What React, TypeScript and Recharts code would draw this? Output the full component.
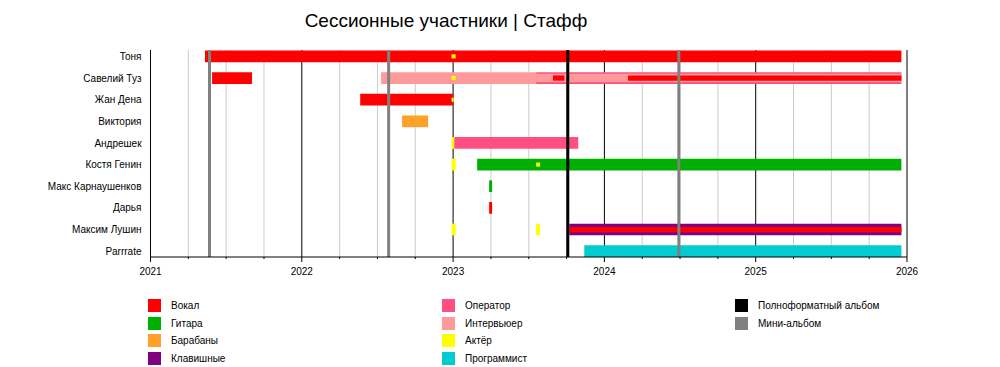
import React from 'react';
import { ComposedChart, XAxis, YAxis, ReferenceArea, ReferenceLine } from 'recharts';

type Seg = [string, number, number];

const members = [
  'Тоня', 'Савелий Туз', 'Жан Дена', 'Виктория', 'Андрешек',
  'Костя Генин', 'Макс Карнаушенков', 'Дарья', 'Максим Лушин', 'Parrrate',
];

// main bars, dates as decimal years
const vocal: Seg[] = [
  ['Тоня', 2021.36, 2025.963],
  ['Савелий Туз', 2021.407, 2021.671],
  ['Жан Дена', 2022.386, 2022.999],
  ['Дарья', 2023.238, 2023.258],
];
const guitar: Seg[] = [
  ['Костя Генин', 2023.159, 2025.963],
  ['Макс Карнаушенков', 2023.238, 2023.258],
];
const drums: Seg[] = [['Виктория', 2022.663, 2022.835]];
const keyboards: Seg[] = [['Максим Лушин', 2023.768, 2025.963]];
const operator: Seg[] = [
  ['Савелий Туз', 2023.549, 2025.963],
  ['Андрешек', 2023.007, 2023.827],
];
const interviewer: Seg[] = [['Савелий Туз', 2022.524, 2023.549]];
const actor: Seg[] = [
  ['Андрешек', 2022.99, 2023.007],
  ['Костя Генин', 2022.99, 2023.017],
  ['Максим Лушин', 2022.99, 2023.017],
  ['Максим Лушин', 2023.549, 2023.575],
];
const programmer: Seg[] = [['Parrrate', 2023.867, 2025.963]];

// secondary roles, drawn thinner inside a main bar
const interviewerAlso: Seg[] = [['Савелий Туз', 2023.549, 2025.963]];
const vocalAlso: Seg[] = [
  ['Савелий Туз', 2023.66, 2023.735],
  ['Савелий Туз', 2024.156, 2025.963],
  ['Максим Лушин', 2023.768, 2025.963],
];
const actorAlso: Seg[] = [
  ['Тоня', 2022.99, 2023.017],
  ['Савелий Туз', 2022.99, 2023.017],
  ['Жан Дена', 2022.99, 2023.004],
  ['Костя Генин', 2023.549, 2023.575],
];

const fullAlbums = [2023.758];
const miniAlbums = [2021.39, 2022.574, 2024.492];

const years = [2021, 2022, 2023, 2024, 2025, 2026];
const quarters = [
  2021.25, 2021.5, 2021.75, 2022.25, 2022.5, 2022.75, 2023.25, 2023.5, 2023.75,
  2024.25, 2024.5, 2024.75, 2025.25, 2025.5, 2025.75,
];

const C = {
  vocal: '#ff0000',
  guitar: '#00b000',
  drums: '#ffa02a',
  keyboards: '#800080',
  operator: '#ff4f80',
  interviewer: '#ff9a9a',
  actor: '#ffff00',
  programmer: '#00ccd2',
  full: '#000000',
  mini: '#808080',
};

const legendCols = [
  [['Вокал', C.vocal], ['Гитара', C.guitar], ['Барабаны', C.drums], ['Клавишные', C.keyboards]],
  [['Оператор', C.operator], ['Интервьюер', C.interviewer], ['Актёр', C.actor], ['Программист', C.programmer]],
  [['Полноформатный альбом', C.full], ['Мини-альбом', C.mini]],
];

const FONT = '"Liberation Sans", Arial, sans-serif';
const BAND = 0.54;
const TOP = 9.566;

const rowCenter = (name: string) => 9 - members.indexOf(name) + BAND / 2;

const areas = (segs: Seg[], color: string, scale: number, tag: string, z: number) =>
  segs.map(([name, s, e], i) => {
    const c = rowCenter(name);
    const h = (BAND / 2) * scale;
    return (
      <ReferenceArea
        key={tag + i}
        x1={s}
        x2={e}
        y1={c - h}
        y2={c + h}
        fill={color}
        fillOpacity={1}
        stroke="none"
        ifOverflow="extendDomain"
        zIndex={z}
      />
    );
  });

const TimeTick = (props: any) => {
  const { x, y, payload } = props;
  const major = Number.isInteger(payload.value);
  return (
    <g>
      <line x1={x} x2={x} y1={y} y2={y + (major ? 5 : 2)} stroke="#000" />
      {major && (
        <text x={x} y={y + 18} textAnchor="middle" fontSize={10} fill="#000" fontFamily={FONT}>
          {payload.value}
        </text>
      )}
    </g>
  );
};

export default function App() {
  return (
    <div style={{ position: 'absolute', left: 0, top: 0, width: 1000, height: 367, background: '#fff', fontFamily: FONT }}>
      <div style={{ position: 'absolute', left: 0, width: 892, top: 10, textAlign: 'center', fontSize: 19, color: '#000' }}>
        Сессионные участники | Стафф
      </div>
      <ComposedChart width={1000} height={367} margin={{ top: 50, right: 93, bottom: 0, left: 0 }} data={members.map((m) => ({ m }))}>
        <XAxis
          type="number"
          dataKey="x"
          domain={[2021, 2026]}
          ticks={[...years, ...quarters].sort((a, b) => a - b)}
          interval={0}
          height={110}
          tickSize={0}
          tickMargin={0}
          tickLine={false}
          axisLine={{ stroke: '#000' }}
          tick={<TimeTick />}
          allowDataOverflow
        />
        <YAxis
          type="number"
          domain={[0, TOP]}
          ticks={members.map((m) => rowCenter(m))}
          tickFormatter={(v: number) => members[Math.round(9 + BAND / 2 - v)]}
          width={150.5}
          tickSize={0}
          tickMargin={9}
          axisLine={false}
          tickLine={false}
          tick={{ fontSize: 10, fill: '#000', fontFamily: FONT }}
          interval={0}
          allowDataOverflow
        />
        {quarters.map((q) => (
          <ReferenceLine key={'q' + q} x={q} stroke="#cccccc" strokeWidth={1} zIndex={-50} />
        ))}
        {years.map((q) => (
          <ReferenceLine key={'y' + q} x={q} stroke="#000" strokeWidth={1} zIndex={-40} />
        ))}
        {areas(interviewer, C.interviewer, 1, 'iv', 100)}
        {areas(operator, C.operator, 1, 'op', 100)}
        {areas(vocal, C.vocal, 1, 'vo', 100)}
        {areas(guitar, C.guitar, 1, 'gu', 100)}
        {areas(drums, C.drums, 1, 'dr', 100)}
        {areas(keyboards, C.keyboards, 1, 'kb', 100)}
        {areas(programmer, C.programmer, 1, 'pr', 100)}
        {areas(actor, C.actor, 1, 'ac', 100)}
        {areas(interviewerAlso, C.interviewer, 0.72, 'iva', 110)}
        {areas(vocalAlso, C.vocal, 0.45, 'voa', 120)}
        {areas(actorAlso, C.actor, 0.35, 'aca', 130)}
        {miniAlbums.map((a) => (
          <ReferenceLine key={'m' + a} x={a} stroke={C.mini} strokeWidth={3} zIndex={450} />
        ))}
        {fullAlbums.map((a) => (
          <ReferenceLine key={'f' + a} x={a} stroke={C.full} strokeWidth={3} zIndex={450} />
        ))}
      </ComposedChart>
      {legendCols.map((col, ci) =>
        col.map(([label, color], ri) => (
          <div key={label} style={{ position: 'absolute', left: [148, 442, 735][ci], top: 299 + ri * 17.7, display: 'flex', alignItems: 'center', fontSize: 10, color: '#000' }}>
            <div style={{ width: 13, height: 13, background: color, marginRight: 10 }} />
            <span>{label}</span>
          </div>
        ))
      )}
    </div>
  );
}
